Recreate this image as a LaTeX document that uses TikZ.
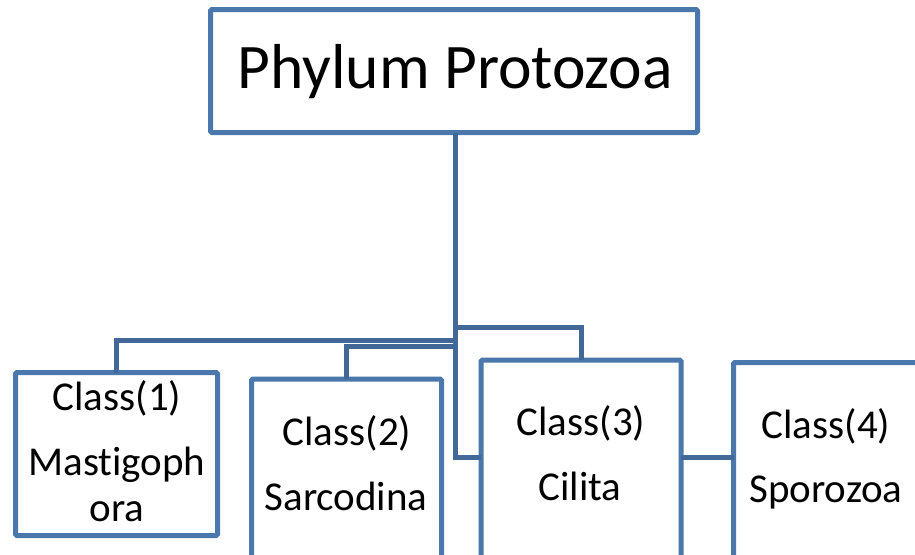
\documentclass[tikz,border=0pt]{standalone}
\usepackage{fontspec}
\setmainfont{Carlito}[Ligatures=NoCommon,RawFeature={-liga}]
\definecolor{boxblue}{RGB}{74,120,172}
\definecolor{lineblue}{RGB}{66,104,152}
\begin{document}
\begin{tikzpicture}[x=1pt,y=-1pt,
  box/.style={draw=boxblue,line width=5pt,rectangle,rounded corners=1.5pt,inner sep=0pt,outer sep=0pt,fill=white},
  conn/.style={draw=lineblue,line width=5pt},
  cls/.style={anchor=base,inner sep=0pt,font=\fontsize{41}{48}\selectfont},
  ttl/.style={anchor=base,inner sep=0pt,font=\fontsize{63.5}{72}\selectfont}]
\useasboundingbox (0,0) rectangle (915,554);
\clip (0,0) rectangle (915,554);
% boxes
\node[box,minimum width=487pt,minimum height=123pt] (top) at (454,71) {};
\node[box,minimum width=202pt,minimum height=163pt] (c1) at (116.5,454) {};
\node[box,minimum width=190pt,minimum height=186pt] (c2) at (346.5,472) {};
\node[box,minimum width=200pt,minimum height=205pt] (c3) at (581,462.5) {};
\node[box,minimum width=191.5pt,minimum height=202.5pt] (c4) at (829.25,463.75) {};
% connectors
\coordinate (jb) at (455,457);
\coordinate (ts) at (455,132.5);
\draw[conn] (ts) -- (jb) -- (jb -| c3.west);
\draw[conn] (ts |- 0,340) -| (c1.north);
\draw[conn] (ts |- 0,346.5) -| (c2.north);
\draw[conn] (ts |- 0,327) -| (c3.north);
\draw[conn] (c3.east |- jb) -- (c4.west |- jb);
% texts
\node[ttl] (t0) at (455,88) {Phylum Protozoa};
\node[cls] (t1a) at (117,410) {Class(1)};
\node[cls] (t1b) at (117,475) {Mastigoph};
\node[cls] (t1c) at (117,521) {ora};
\node[cls] (t2a) at (347,445) {Class(2)};
\node[cls] (t2b) at (346,510) {Sarcodina};
\node[cls] (t3a) at (581,435) {Class(3)};
\node[cls] (t3b) at (580,500) {Cilita};
\node[cls] (t4a) at (826,438) {Class(4)};
\node[cls] (t4b) at (826,502) {Sporozoa};
\end{tikzpicture}
\end{document}
